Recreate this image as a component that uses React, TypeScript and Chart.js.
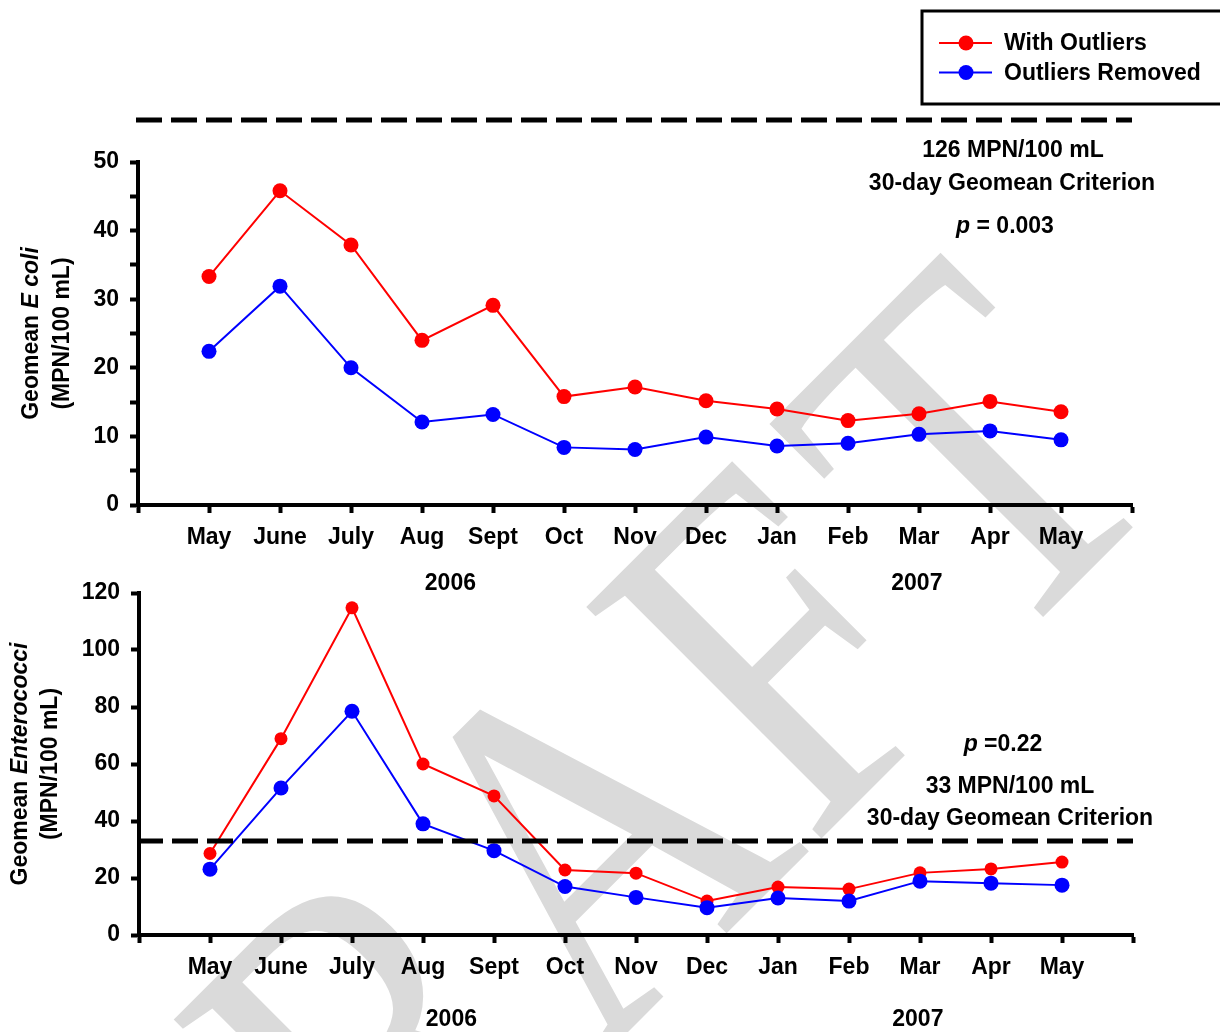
import React, { useEffect, useRef } from 'react';
import { Chart, registerables } from 'chart.js';

Chart.register(...registerables);

// ---------------- data ----------------
const months = ['May', 'June', 'July', 'Aug', 'Sept', 'Oct', 'Nov', 'Dec', 'Jan', 'Feb', 'Mar', 'Apr', 'May'];
const years = ['2006', '2007'];
const seriesNames = ['With Outliers', 'Outliers Removed'];

const ecoliWithOutliers = [33.3, 45.8, 37.9, 24.0, 29.1, 15.8, 17.2, 15.2, 14.0, 12.3, 13.3, 15.1, 13.6];
const ecoliOutliersRemoved = [22.4, 31.9, 20.0, 12.1, 13.2, 8.4, 8.1, 9.9, 8.6, 9.0, 10.3, 10.8, 9.5];
const enteroWithOutliers = [28.6, 68.9, 114.8, 60.0, 48.8, 22.8, 21.7, 11.9, 16.8, 16.1, 21.8, 23.2, 25.6];
const enteroOutliersRemoved = [23.1, 51.6, 78.5, 39.0, 29.6, 17.0, 13.2, 9.6, 13.0, 11.9, 18.9, 18.2, 17.5];

const ecoliTickLabels = [0, 10, 20, 30, 40, 50];
const enteroTickLabels = [0, 20, 40, 60, 80, 100, 120];

const ecoliCriterion = 126;
const enteroCriterion = 33;
const ecoliP = '0.003';
const enteroP = '0.22';
const watermarkHead = 'DRAF';
const watermarkTail = 'T';

// ---------------- styles ----------------
const FAMILY = '"Liberation Sans", Arial, Helvetica, sans-serif';
const FS = 23;
const RED = '#ff0000';
const BLUE = '#0000ff';
const W = 1220;

type Seg = { t: string; i?: boolean };

function drawRich(ctx: CanvasRenderingContext2D, segs: Seg[], cx: number, cy: number, size = FS) {
  const fonts = segs.map((s) => `${s.i ? 'italic ' : ''}bold ${size}px ${FAMILY}`);
  let total = 0;
  const widths = segs.map((s, k) => {
    ctx.font = fonts[k];
    const w = ctx.measureText(s.t).width;
    total += w;
    return w;
  });
  let x = cx - total / 2;
  ctx.textAlign = 'left';
  ctx.textBaseline = 'middle';
  ctx.fillStyle = '#000';
  segs.forEach((s, k) => {
    ctx.font = fonts[k];
    ctx.fillText(s.t, x, cy);
    x += widths[k];
  });
}

function toPoints(vals: number[]) {
  return vals.map((v, i) => ({ x: i + 1, y: v }));
}

interface ChartSpec {
  withVals: number[];
  removedVals: number[];
  yMax: number;
  yStep: number;
  yLabels: number[];
  padRight: number;
  padTop: number;
  yWidth: number;
  xHeight: number;
  redRadius: number;
  blueRadius: number;
  titleLines: Seg[][];
  titleX: number[];
  yearAt: number[];
  yearOffset: number;
  criterionValue: number | null; // null => off-scale line drawn above plot
  criterionOffset: number;
  texts: { segs: Seg[]; x: number; y: number }[];
  legend: boolean;
}

function makeConfig(spec: ChartSpec): any {
  const gridOpts = {
    display: true,
    drawOnChartArea: false,
    drawTicks: true,
    tickLength: 8,
    tickWidth: 4,
    tickColor: '#000',
    color: '#000',
  };
  const borderOpts = { display: true, color: '#000', width: 4 };
  const tickFont = { family: FAMILY, size: FS, weight: 'bold' as const };

  const annotationPlugin = {
    id: 'annot',
    afterDatasetsDraw(chart: any) {
      const ctx: CanvasRenderingContext2D = chart.ctx;
      const area = chart.chartArea;
      const xs = chart.scales.x;
      const ys = chart.scales.y;
      ctx.save();
      // criterion dashed line
      const yLine = spec.criterionValue === null ? area.top - spec.criterionOffset : ys.getPixelForValue(spec.criterionValue);
      ctx.strokeStyle = '#000';
      ctx.lineWidth = 5;
      ctx.setLineDash([26, 9]);
      ctx.beginPath();
      ctx.moveTo(area.left - 2, yLine);
      ctx.lineTo(area.right, yLine);
      ctx.stroke();
      ctx.setLineDash([]);
      // annotation texts
      spec.texts.forEach((t) => drawRich(ctx, t.segs, t.x, t.y));
      // year labels
      years.forEach((yr, k) => {
        drawRich(ctx, [{ t: yr }], xs.getPixelForValue(spec.yearAt[k]), area.bottom + spec.yearOffset);
      });
      // y axis title
      const cy = (area.top + area.bottom) / 2;
      spec.titleLines.forEach((segs, k) => {
        ctx.save();
        ctx.translate(spec.titleX[k], cy);
        ctx.rotate(-Math.PI / 2);
        drawRich(ctx, segs, 0, 0);
        ctx.restore();
      });
      // legend
      if (spec.legend) {
        ctx.lineWidth = 3;
        ctx.strokeStyle = '#000';
        ctx.strokeRect(922, 11, 320, 93);
        const ds = chart.data.datasets;
        const rows = [43, 72.5];
        [0, 1].forEach((di, k) => {
          const d = ds[di];
          const y = rows[k];
          ctx.strokeStyle = d.borderColor;
          ctx.lineWidth = 2;
          ctx.beginPath();
          ctx.moveTo(939, y);
          ctx.lineTo(992, y);
          ctx.stroke();
          ctx.fillStyle = d.borderColor;
          ctx.beginPath();
          ctx.arc(966, y, 7.5, 0, Math.PI * 2);
          ctx.fill();
          ctx.fillStyle = '#000';
          ctx.font = `bold ${FS}px ${FAMILY}`;
          ctx.textAlign = 'left';
          ctx.textBaseline = 'middle';
          ctx.fillText(d.label, 1004, y + 1);
        });
      }
      ctx.restore();
    },
  };

  return {
    type: 'line',
    data: {
      datasets: [
        {
          label: seriesNames[0],
          data: toPoints(spec.withVals),
          borderColor: RED,
          backgroundColor: RED,
          pointBackgroundColor: RED,
          pointBorderColor: RED,
          pointBorderWidth: 0,
          pointRadius: spec.redRadius,
          borderWidth: 2,
          tension: 0,
          clip: false,
          order: 1,
        },
        {
          label: seriesNames[1],
          data: toPoints(spec.removedVals),
          borderColor: BLUE,
          backgroundColor: BLUE,
          pointBackgroundColor: BLUE,
          pointBorderColor: BLUE,
          pointBorderWidth: 0,
          pointRadius: spec.blueRadius,
          borderWidth: 2,
          tension: 0,
          clip: false,
          order: 0,
        },
      ],
    },
    options: {
      animation: false,
      responsive: false,
      events: [],
      layout: { padding: { left: 0, right: spec.padRight, top: spec.padTop, bottom: 0 } },
      plugins: { legend: { display: false }, tooltip: { enabled: false }, title: { display: false } },
      scales: {
        x: {
          type: 'linear',
          min: 0,
          max: 14,
          afterFit: (s: any) => {
            s.height = spec.xHeight;
          },
          ticks: {
            stepSize: 1,
            autoSkip: false,
            maxRotation: 0,
            minRotation: 0,
            padding: 11,
            color: '#000',
            font: tickFont,
            callback: (v: number) => months[v - 1] ?? '',
          },
          grid: gridOpts,
          border: borderOpts,
        },
        y: {
          min: 0,
          max: spec.yMax,
          afterFit: (s: any) => {
            s.width = spec.yWidth;
          },
          ticks: {
            stepSize: spec.yStep,
            padding: 11,
            color: '#000',
            font: tickFont,
            callback: (v: number) => (spec.yLabels.includes(v) ? String(v) : ''),
          },
          grid: gridOpts,
          border: borderOpts,
        },
      },
    },
    plugins: [annotationPlugin],
  };
}

const TOP_H = 610;
const BOT_TOP = 560;
const BOT_H = 1032 - BOT_TOP;

export default function App() {
  const topRef = useRef<HTMLCanvasElement>(null);
  const botRef = useRef<HTMLCanvasElement>(null);

  useEffect(() => {
    const top = new Chart(
      topRef.current as HTMLCanvasElement,
      makeConfig({
        withVals: ecoliWithOutliers,
        removedVals: ecoliOutliersRemoved,
        yMax: 50,
        yStep: 5,
        yLabels: ecoliTickLabels,
        padRight: W - 1132,
        padTop: 162,
        yWidth: 138,
        xHeight: TOP_H - 505,
        redRadius: 7.5,
        blueRadius: 7.5,
        titleLines: [[{ t: 'Geomean ' }, { t: 'E coli', i: true }], [{ t: '(MPN/100 mL)' }]],
        titleX: [32, 63],
        yearAt: [4.4, 10.97],
        yearOffset: 79,
        criterionValue: null,
        criterionOffset: 42,
        texts: [
          { segs: [{ t: `${ecoliCriterion} MPN/100 mL` }], x: 1013, y: 151 },
          { segs: [{ t: '30-day Geomean Criterion' }], x: 1012, y: 184 },
          { segs: [{ t: 'p', i: true }, { t: ` = ${ecoliP}` }], x: 1005, y: 227 },
        ],
        legend: true,
      })
    );
    const bot = new Chart(
      botRef.current as HTMLCanvasElement,
      makeConfig({
        withVals: enteroWithOutliers,
        removedVals: enteroOutliersRemoved,
        yMax: 120,
        yStep: 10,
        yLabels: enteroTickLabels,
        padRight: W - 1133,
        padTop: 593 - BOT_TOP,
        yWidth: 139,
        xHeight: BOT_H - (935 - BOT_TOP),
        redRadius: 6.5,
        blueRadius: 7.5,
        titleLines: [[{ t: 'Geomean ' }, { t: 'Enterococci', i: true }], [{ t: '(MPN/100 mL)' }]],
        titleX: [21, 51],
        yearAt: [4.4, 10.97],
        yearOffset: 85,
        criterionValue: enteroCriterion,
        criterionOffset: 0,
        texts: [
          { segs: [{ t: 'p', i: true }, { t: ` =${enteroP}` }], x: 1003, y: 744 - BOT_TOP + 1 },
          { segs: [{ t: `${enteroCriterion} MPN/100 mL` }], x: 1010, y: 786 - BOT_TOP + 1 },
          { segs: [{ t: '30-day Geomean Criterion' }], x: 1010, y: 818 - BOT_TOP + 1 },
        ],
        legend: false,
      })
    );
    return () => {
      top.destroy();
      bot.destroy();
    };
  }, []);

  return (
    <div
      style={{
        position: 'absolute',
        left: 0,
        top: 0,
        width: W,
        height: 1032,
        overflow: 'hidden',
        background: '#ffffff',
      }}
    >
      <svg width={W} height={1032} style={{ position: 'absolute', left: 0, top: 0 }}>
        <g transform="translate(184 1476) rotate(-45) scale(1 1.2)">
          <text
            x={0}
            y={0}
            fontFamily='"Liberation Serif", "Times New Roman", serif'
            fontSize={420}
            fill="#dadada"
          >
            {watermarkHead}
            <tspan dx={30}>{watermarkTail}</tspan>
          </text>
        </g>
      </svg>
      <canvas
        ref={topRef}
        width={W}
        height={TOP_H}
        style={{ position: 'absolute', left: 0, top: 0, width: W, height: TOP_H }}
      />
      <canvas
        ref={botRef}
        width={W}
        height={BOT_H}
        style={{ position: 'absolute', left: 0, top: BOT_TOP, width: W, height: BOT_H }}
      />
    </div>
  );
}
